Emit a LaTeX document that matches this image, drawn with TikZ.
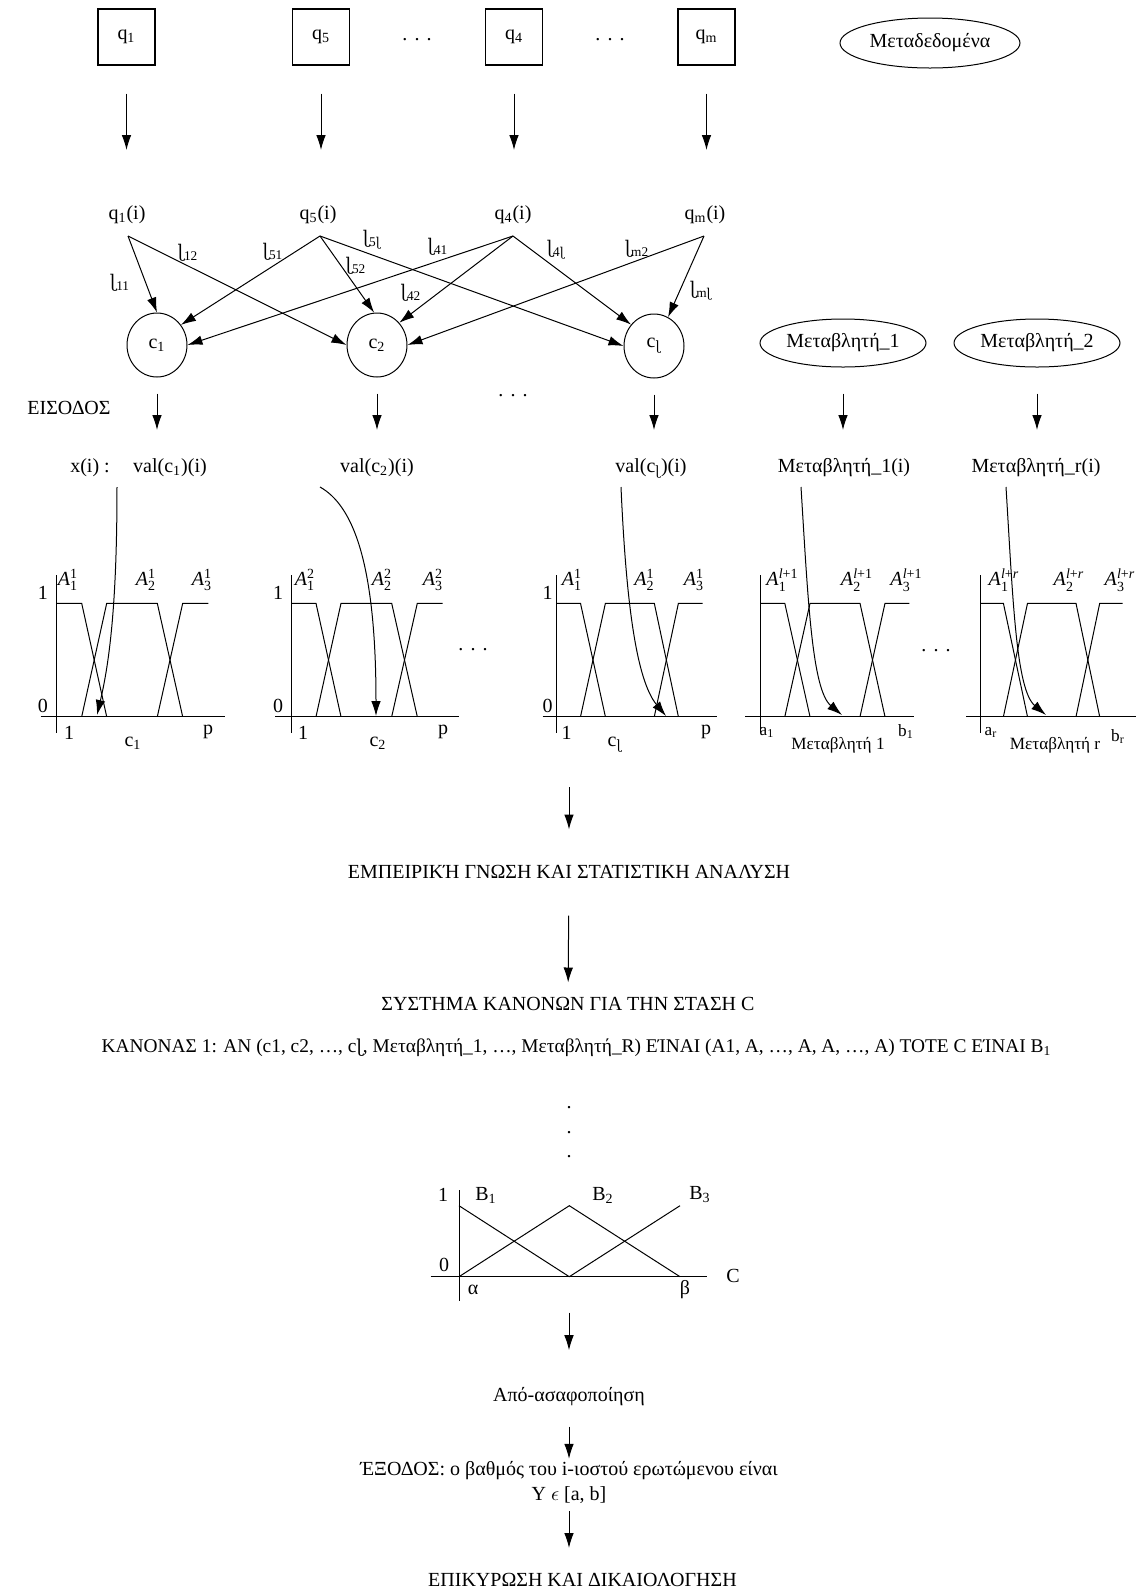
\documentclass[tikz,border=0pt]{standalone}
\usepackage{fontspec}
\usepackage{amsmath}
\setmainfont{Liberation Serif}
\newfontfamily\ipafont[Scale=0.92]{DejaVu Serif}
\usetikzlibrary{arrows.meta,shapes.geometric}

% retroflex hooked l used in the weight and concept names
\newcommand\hk{{\ipafont ɭ}}
% widely spaced ellipsis
\newcommand\sdots{.\hspace{3.6pt}.\hspace{3.6pt}.}
% fuzzy set label A_i^j
\newcommand\Aset[2]{\textit{A}$_{\text{#1}}^{\text{#2}}$}
% trapezoidal membership functions: x0 xa xb xc xd xe axis-left axis-right
\newcommand\fuzzychart[8]{%
  \draw (#1,575) -- (#1,733);
  \draw (#7,716.7) -- (#8,716.7);
  \draw (#1,603.3) -- (#2,603.3) -- (#3,716.7);
  \draw (#2,716.7) -- (#3,603.3) -- (#4,603.3) -- (#5,716.7);
  \draw (#4,716.7) -- (#5,603.3) -- (#6,603.3);
}

\tikzset{
  arr/.style={-{Latex[length=7.5pt,width=4.8pt]}},
  lbl/.style={inner sep=0pt},
  small/.style={inner sep=0pt, font=\fontsize{8.6}{10}\selectfont},
  txt/.style={inner sep=0pt, text height=7pt, text depth=2pt},
  qbox/.style={draw, line width=0.6pt, minimum width=28.5pt, minimum height=28pt, inner sep=0pt},
  cnode/.style={draw, ellipse, minimum width=30pt, minimum height=32pt, inner sep=0pt},
  vnode/.style={draw, ellipse, minimum width=83pt, minimum height=24pt, inner sep=0pt},
  elab/.style={inner sep=0pt, font=\fontsize{9.5}{11}\selectfont},
}

\begin{document}
\begin{tikzpicture}[x=0.5pt, y=-0.5pt, line width=0.5pt, font=\fontsize{10}{12}\selectfont]
\useasboundingbox (0,0) rectangle (1142,1592);

% ---- questions ----
\node[qbox] (b1) at (126.5,37) {q\textsubscript{1}};
\node[qbox] (b5) at (321,37) {q\textsubscript{5}};
\node[qbox] (b4) at (514,37) {q\textsubscript{4}};
\node[qbox] (bm) at (706.5,37) {q\textsubscript{m}};
\node[lbl] (dq1) at (417,40) {\sdots};
\node[lbl] (dq2) at (610,40) {\sdots};
\node[vnode, minimum width=90pt, minimum height=25pt] (meta) at (930,43) {Μεταδεδομένα};

\coordinate (e1) at (126.5,150);
\coordinate (e5) at (321,150);
\coordinate (e4) at (514,150);
\coordinate (em) at (706.5,150);
\draw[arr, shorten <=14pt] (b1) -- (e1);
\draw[arr, shorten <=14pt] (b5) -- (e5);
\draw[arr, shorten <=14pt] (b4) -- (e4);
\draw[arr, shorten <=14pt] (bm) -- (em);

% ---- answers and concepts ----
\node[lbl] (qi1) at (127,215) {q\textsubscript{1}(i)};
\node[lbl] (qi5) at (318,215) {q\textsubscript{5}(i)};
\node[lbl] (qi4) at (513,215) {q\textsubscript{4}(i)};
\node[lbl] (qim) at (705,215) {q\textsubscript{m}(i)};
\coordinate (s1) at (128,236);
\coordinate (s5) at (320,236);
\coordinate (s4) at (513,236);
\coordinate (sm) at (704,236);

\node[cnode] (c1) at (157,345) {c\textsubscript{1}};
\node[cnode] (c2) at (377,345) {c\textsubscript{2}};
\node[cnode] (cl) at (654,346) {c\textsubscript{\hk}};
\node[vnode] (v1) at (843,343) {Μεταβλητή\_1};
\node[vnode] (v2) at (1037,343) {Μεταβλητή\_2};

\draw[arr] (s1) -- (c1.north);
\draw[arr] (s1) -- (c2.180);
\draw[arr] (s5) -- (c1.40);
\draw[arr] (s5) -- (c2.95);
\draw[arr] (s5) -- (cl.180);
\draw[arr] (s4) -- (c1.0);
\draw[arr] (s4) -- (c2.45);
\draw[arr] (s4) -- (cl.137);
\draw[arr] (sm) -- (c2.0);
\draw[arr] (sm) -- (cl.64);

\node[elab] (w11) at (120,283) {\hk\textsubscript{11}};
\node[elab] (w12) at (188,253) {\hk\textsubscript{12}};
\node[elab] (w51) at (273,252) {\hk\textsubscript{51}};
\node[elab] (w52) at (356,266) {\hk\textsubscript{52}};
\node[elab] (w5l) at (372,240) {\hk\textsubscript{5\hk}};
\node[elab] (w41) at (438,247) {\hk\textsubscript{41}};
\node[elab] (w42) at (411,293) {\hk\textsubscript{42}};
\node[elab] (w4l) at (556,250) {\hk\textsubscript{4\hk}};
\node[elab] (wm2) at (637,249) {\hk\textsubscript{m2}};
\node[elab] (wml) at (701,291) {\hk\textsubscript{m\hk}};

% ---- inputs ----
\node[lbl] (eis) at (69,408) {ΕΙΣΟΔΟΣ};
\node[lbl] (dc) at (513,396) {\sdots};
\coordinate (ce1) at (157,430);
\coordinate (ce2) at (377,430);
\coordinate (cel) at (654,430);
\coordinate (ve1) at (843,430);
\coordinate (ve2) at (1037,430);
\draw[arr, shorten <=8pt] (c1) -- (ce1);
\draw[arr, shorten <=8pt] (c2) -- (ce2);
\draw[arr, shorten <=8pt] (cl) -- (cel);
\draw[arr, shorten <=13pt] (v1) -- (ve1);
\draw[arr, shorten <=13pt] (v2) -- (ve2);

\node[lbl] (xi) at (90,468) {x(i) :};
\node[lbl] (val1) at (170,468) {val(c\textsubscript{1})(i)};
\node[lbl] (val2) at (377,468) {val(c\textsubscript{2})(i)};
\node[lbl] (vall) at (651,468) {val(c\textsubscript{\hk})(i)};
\node[lbl] (mv1) at (844,468) {Μεταβλητή\_1(i)};
\node[lbl] (mvr) at (1036,468) {Μεταβλητή\_r(i)};

% ---- fuzzification ----
\fuzzychart{56.7}{81.7}{106.7}{157.3}{182.7}{208.3}{40.7}{225}
\fuzzychart{291}{316}{341}{391.7}{417.3}{442.7}{275}{459}
\fuzzychart{556}{580.5}{605.4}{654.3}{678.4}{702.5}{542.5}{717.2}
\fuzzychart{760.7}{784.8}{810}{860}{885}{909.3}{745}{914}
\fuzzychart{980}{1003.4}{1027.5}{1076}{1099.7}{1122.5}{966}{1136}

\node[lbl] (g1t) at (43,593) {1};
\node[lbl] (g1z) at (43,706) {0};
\node[lbl] (g1a) at (69,733) {1};
\node[lbl] (g1p) at (208,732) {p};
\node[lbl] (g1c) at (133,743) {c\textsubscript{1}};
\node[lbl] (g1A1) at (68,580) {\Aset{1}{1}};
\node[lbl] (g1A2) at (146,580) {\Aset{2}{1}};
\node[lbl] (g1A3) at (202,580) {\Aset{3}{1}};

\node[lbl] (g2t) at (278,593) {1};
\node[lbl] (g2z) at (278,706) {0};
\node[lbl] (g2a) at (303,733) {1};
\node[lbl] (g2p) at (443,732) {p};
\node[lbl] (g2c) at (378,743) {c\textsubscript{2}};
\node[lbl] (g2A1) at (305,580) {\Aset{1}{2}};
\node[lbl] (g2A2) at (382,580) {\Aset{2}{2}};
\node[lbl] (g2A3) at (433,580) {\Aset{3}{2}};

\node[lbl] (dg1) at (473,650) {\sdots};

\node[lbl] (g3t) at (547.5,593) {1};
\node[lbl] (g3z) at (547.5,706) {0};
\node[lbl] (g3a) at (566.5,733) {1};
\node[lbl] (g3p) at (706,732) {p};
\node[lbl] (g3c) at (615,745) {c\textsubscript{\hk}};
\node[lbl] (g3A1) at (572,580) {\Aset{1}{1}};
\node[lbl] (g3A2) at (644.5,580) {\Aset{2}{1}};
\node[lbl] (g3A3) at (694,580) {\Aset{3}{1}};

\node[small] (g4a) at (767,732) {a\textsubscript{1}};
\node[small] (g4b) at (906,732) {b\textsubscript{1}};
\node[small] (g4c) at (838,745) {Μεταβλητή 1};
\node[lbl] (g4A1) at (782.5,580) {\Aset{1}{\textit{l}+1}};
\node[lbl] (g4A2) at (857,580) {\Aset{2}{\textit{l}+1}};
\node[lbl] (g4A3) at (906.5,580) {\Aset{3}{\textit{l}+1}};

\node[lbl] (dg2) at (936,651) {\sdots};

\node[small] (g5a) at (991,732) {a\textsubscript{r}};
\node[small] (g5b) at (1118,737) {b\textsubscript{r}};
\node[small] (g5c) at (1055,745) {Μεταβλητή r};
\node[lbl] (g5A1) at (1004,580) {\Aset{1}{\textit{l}+\textit{r}}};
\node[lbl] (g5A2) at (1069,580) {\Aset{2}{\textit{l}+\textit{r}}};
\node[lbl] (g5A3) at (1120,580) {\Aset{3}{\textit{l}+\textit{r}}};

% values dropped onto the axes
\coordinate (f1s) at (117,487);
\coordinate (f1e) at (97,715);
\coordinate (f2s) at (320,487);
\coordinate (f2e) at (376,716);
\coordinate (f3s) at (621,487);
\coordinate (f3e) at (666,716);
\coordinate (f4s) at (801,487);
\coordinate (f4e) at (842,715);
\coordinate (f5s) at (1006,487);
\coordinate (f5e) at (1046,715);
\draw[arr] (f1s) .. controls (117,600) and (110,660) .. (f1e);
\draw[arr] (f2s) .. controls (352,505) and (376,560) .. (f2e);
\draw[arr] (f3s) .. controls (626,600) and (636,680) .. (f3e);
\draw[arr] (f4s) .. controls (808,600) and (812,690) .. (f4e);
\draw[arr] (f5s) .. controls (1013,600) and (1016,690) .. (f5e);

% ---- rule base ----
\coordinate (fz) at (569,787);
\node[txt] (emp) at (569,873) {ΕΜΠΕΙΡΙΚΉ ΓΝΩΣΗ ΚΑΙ ΣΤΑΤΙΣΤΙΚΗ ΑΝΑΛΥΣΗ};
\node[txt] (sys) at (568,1005) {ΣΥΣΤΗΜΑ ΚΑΝΟΝΩΝ ΓΙΑ ΤΗΝ ΣΤΑΣΗ C};
\draw[arr, shorten >=17pt] (fz) -- (emp);
\draw[arr, shorten <=16.5pt, shorten >=6.5pt] (emp) -- (sys);
\node[txt, font=\fontsize{9.7}{11}\selectfont] (rule) at (576.5,1047) {ΚΑΝΟΝΑΣ 1: ΑΝ (c1, c2, …, c\hk, Μεταβλητή\_1, …, Μεταβλητή\_R) ΕΊΝΑΙ (Α1, Α, …, Α, Α, …, Α) ΤΟΤΕ C ΕΊΝΑΙ B\textsubscript{1}};
\node[lbl] (vd1) at (569,1108) {.};
\node[lbl] (vd2) at (569,1133) {.};
\node[lbl] (vd3) at (569,1157) {.};

% ---- output fuzzy sets ----
\draw (459,1190) -- (459,1300.7);
\draw (430.7,1276.7) -- (706.7,1276.7);
\draw (459,1205.7) -- (569.3,1276.7);
\draw (459,1276.7) -- (569.3,1205.7) -- (680,1276.7);
\draw (569.3,1276.7) -- (680,1205.7);
\node[lbl] (o1) at (443,1195) {1};
\node[lbl] (oB1) at (486,1195) {B\textsubscript{1}};
\node[lbl] (oB2) at (603,1195) {B\textsubscript{2}};
\node[lbl] (oB3) at (700,1195) {B\textsubscript{3}};
\node[lbl] (o0) at (444,1265) {0};
\node[lbl] (oal) at (473,1290) {α};
\node[lbl] (obe) at (685,1290) {β};
\node[lbl] (oC) at (733,1276) {C};

% ---- defuzzification and output ----
\coordinate (dz) at (569,1312.7);
\node[txt] (apo) at (569,1396.7) {Από-ασαφοποίηση};
\draw[arr, shorten >=18.5pt] (dz) -- (apo);
\node[txt] (exo) at (569,1470.7) {ΈΞΟΔΟΣ: ο βαθμός του i-ιοστού ερωτώμενου είναι};
\draw[arr, shorten <=10.2pt, shorten >=1.2pt] (apo) -- (exo);
\node[txt] (ya) at (569,1495) {Y $\epsilon$ [a, b]};
\coordinate (ep) at (569,1548);
\draw[arr, shorten <=3.3pt] (ya) -- (ep);
\node[txt] (epik) at (582.5,1581.7) {ΕΠΙΚΥΡΩΣΗ ΚΑΙ ΔΙΚΑΙΟΛΟΓΗΣΗ};
\end{tikzpicture}
\end{document}
